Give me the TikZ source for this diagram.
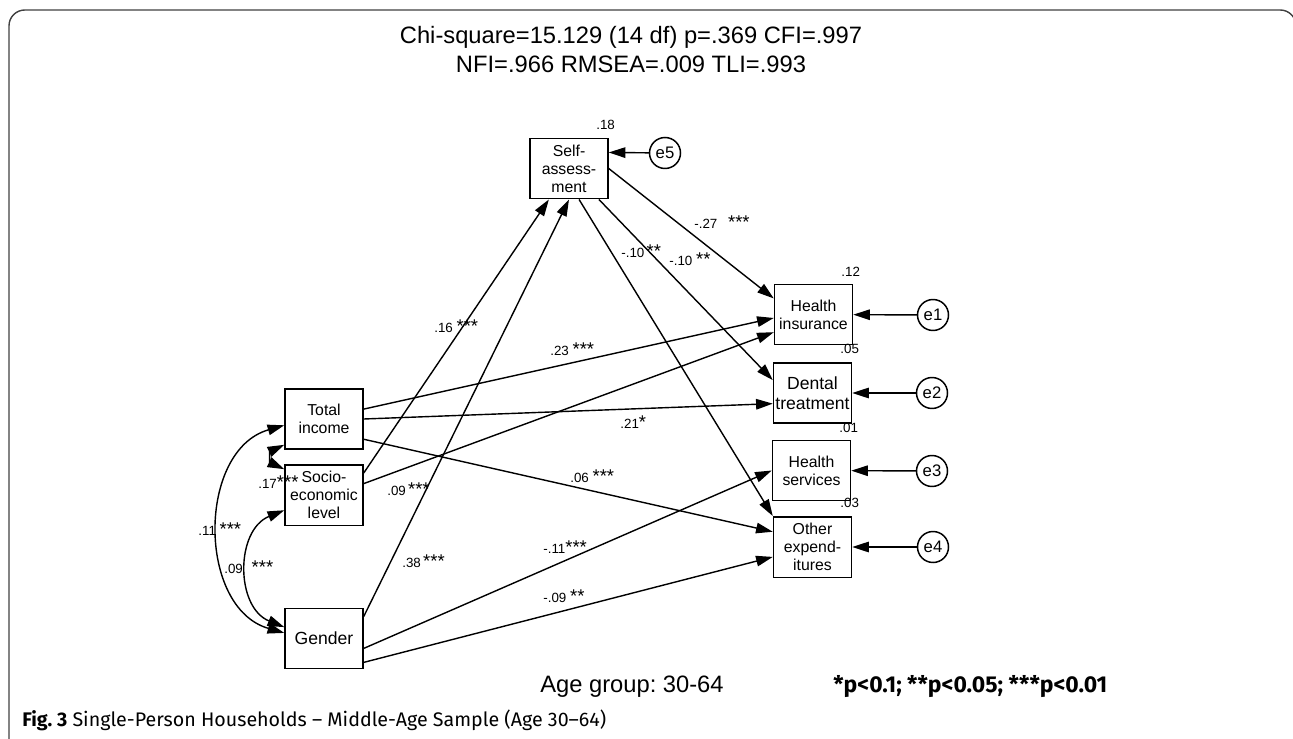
\documentclass[tikz,border=0pt]{standalone}
\usepackage{fontspec}
\setmainfont{Liberation Sans}
\newfontfamily\capfont{Fira Sans}
\usetikzlibrary{positioning,arrows.meta}
\tikzset{
var/.style={draw, line width=0.85pt, align=center, inner sep=0pt, minimum width=1.56cm, minimum height=1.21cm, font=\fontsize{9}{10.3}\selectfont},
err/.style={draw, circle, line width=0.85pt, inner sep=0pt, minimum size=0.62cm, font=\fontsize{9.5}{10}\selectfont},
path/.style={line width=0.8pt, -{Triangle[length=9.5pt,width=6pt]}},
cov/.style={line width=0.8pt, {Triangle[length=9.5pt,width=6pt]}-{Triangle[length=9.5pt,width=6pt]}},
est/.style={anchor=west, inner sep=0pt, font=\fontsize{7.6}{8}\selectfont}
}
\newcommand{\stars}[1]{{\fontsize{10.5}{10}\selectfont #1}}
\frenchspacing

\begin{document}
\begin{tikzpicture}[x=0.02cm, y=-0.02cm]
\useasboundingbox (0,0) rectangle (1293,739);
\clip (0,0) rectangle (1293,739);
% frame
\draw[black!75, line width=0.8pt, rounded corners=9pt] (9,760) -- (9,10) -- (1296,10) -- (1296,760);

% fit indices
\node[inner sep=0pt, align=center, font=\fontsize{13.5}{16.5}\selectfont] (fit) at (631,50) {Chi-square=15.129 (14 df) p=.369 CFI=.997\\NFI=.966 RMSEA=.009 TLI=.993};

% observed variables
\node[var] (self) at (569,168.5) {Self-\\assess-\\ment};
\node[var] (hi) at (813.5,314.5) {Health\\insurance};
\node[var, font=\fontsize{10}{11.4}\selectfont] (dental) at (812.5,393) {Dental\\treatment};
\node[var] (hs) at (811.5,470.5) {Health\\services};
\node[var] (other) at (812.5,547) {Other\\expend-\\itures};
\node[var] (total) at (324,419) {Total\\income};
\node[var] (socio) at (324,495) {Socio-\\economic\\level};
\node[var, font=\fontsize{10}{11}\selectfont] (gender) at (324,638.5) {Gender};

% error terms
\node[err] (e5) at (665,153) {e5};
\node[err] (e1) at (933,315) {e1};
\node[err] (e2) at (932,393) {e2};
\node[err] (e3) at (932,471) {e3};
\node[err] (e4) at (933,547) {e4};
\draw[path] (e5) -- (self.22);
\foreach \e/\v in {e1/hi, e2/dental, e3/hs, e4/other}{
	\draw[path] (\e) -- (\v);
}

% regression paths
\foreach \a/\b in {socio.29/self.237, gender.29/self.south, self.east/hi.158, self.314/dental.162, self.288/other.north west, total.14/hi.185, socio.16/hi.204, total.east/dental.195, total.333/other.159, gender.346/hs.west, gender.329/other.194}{
	\draw[path] (\a) -- (\b);
}

% covariances
\draw[cov] (total.189) to[out=196, in=164, looseness=1.12] (gender.172);
\draw[cov] (total.213) to[out=205, in=155, looseness=1.7] (socio.147);
\draw[cov] (socio.201) to[out=202, in=158, looseness=1.16] (gender.164);

% squared multiple correlations
\node[est] (r-self) at (596,125) {.18};
\node[est] (r-hi) at (841,272) {.12};
\node[est] (r-dental) at (840,349) {.05};
\node[est] (r-hs) at (839,428) {.01};
\node[est] (r-other) at (840,503) {.03};

% estimates
\node[est] (b-self-hi) at (694,222) {-.27\hspace{4pt} \stars{***}};
\node[est] (b-self-dental) at (669,259) {-.10 \stars{**}};
\node[est] (b-self-other) at (621,251) {-.10\,\stars{**}};
\node[est] (b-socio-self) at (434,326) {.16 \stars{***}};
\node[est] (b-total-hi) at (550,349) {.23 \stars{***}};
\node[est] (b-total-dental) at (620,422) {.21\stars{*}};
\node[est] (b-total-other) at (570,476) {.06 \stars{***}};
\node[est] (b-socio-hi) at (387,489) {.09\,\stars{***}};
\node[est] (b-gender-self) at (402,561) {.38\,\stars{***}};
\node[est] (b-gender-hs) at (543,547) {-.11\stars{***}};
\node[est] (b-gender-other) at (543,596) {-.09 \stars{**}};
\node[est] (c-total-socio) at (258,482) {.17\stars{***}};
\node[est] (c-total-gender) at (198,529) {.11 \stars{***}};
\node[est] (c-socio-gender) at (224,567) {.09\hspace{5pt}\stars{***}};

% footer
\node[anchor=base west, inner sep=0pt, font=\fontsize{13.5}{16}\selectfont] (agegrp) at (540,692) {Age group: 30-64};
\node[anchor=base west, inner sep=0pt, font=\capfont\bfseries\fontsize{13}{15}\selectfont] (sig) at (833,692) {\resizebox{5.48cm}{!}{*p<0.1; **p<0.05; ***p<0.01}};
\node[anchor=base west, inner sep=0pt, font=\capfont\fontsize{11}{13}\selectfont] (caption) at (22,726) {\resizebox{11.68cm}{!}{\textbf{Fig. 3} Single-Person Households – Middle-Age Sample (Age 30–64)}};
\end{tikzpicture}
\end{document}
